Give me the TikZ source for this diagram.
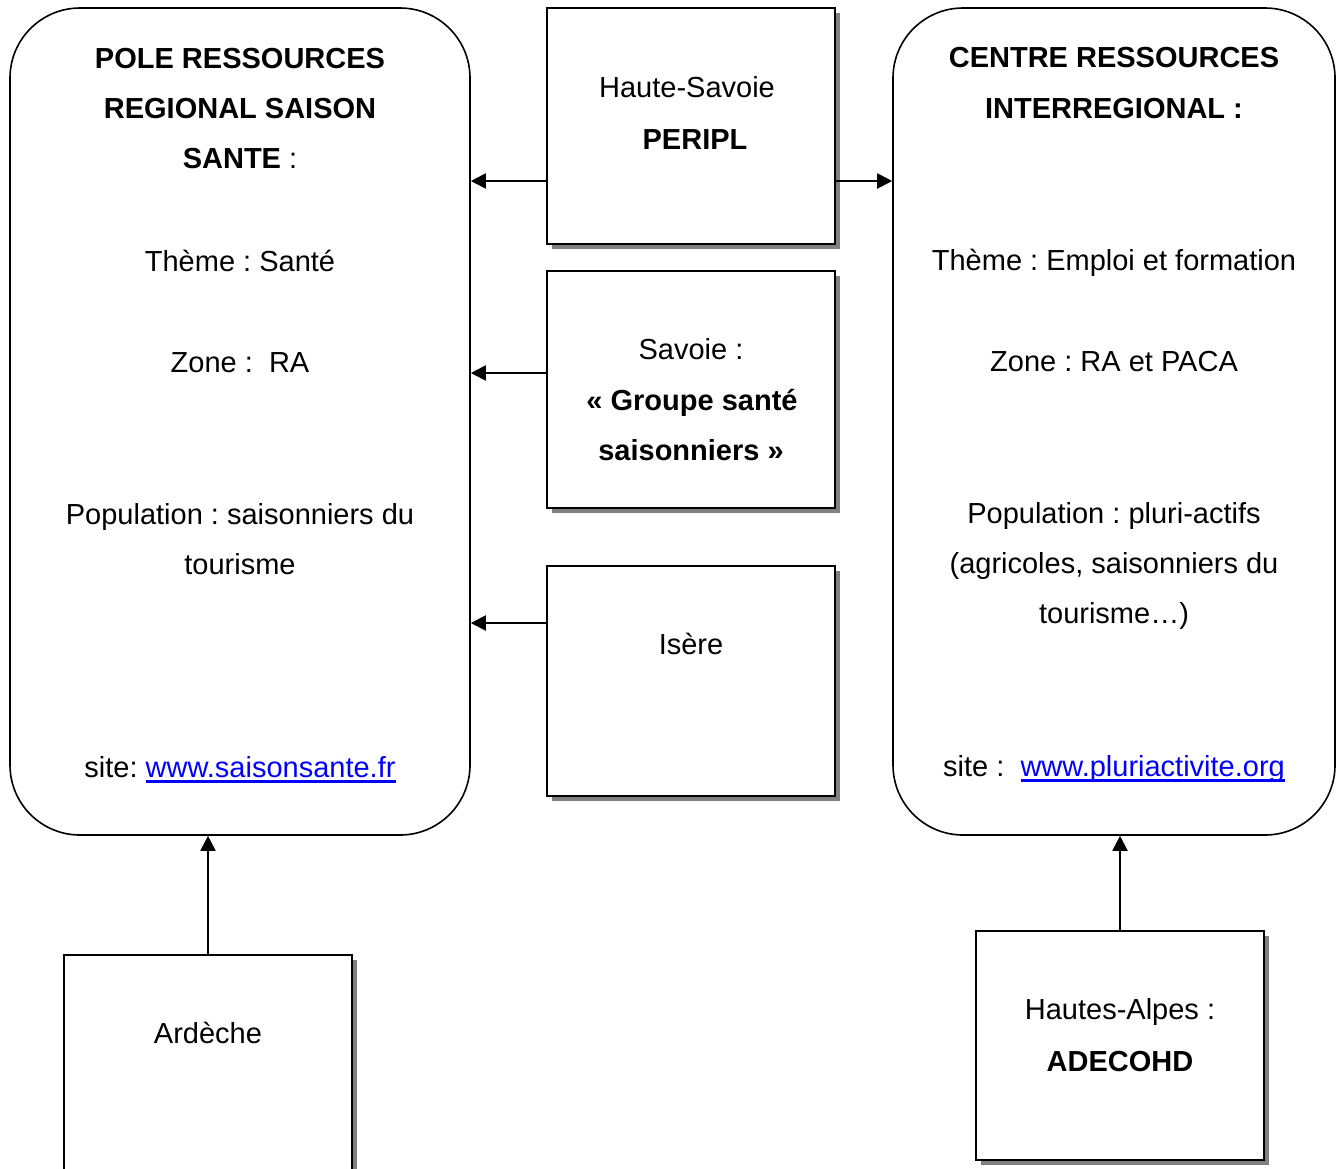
\documentclass[tikz,border=0pt]{standalone}
\usepackage{fontspec}
\setmainfont{Liberation Sans}
\usepackage{xcolor}
\usepackage{tikz}
\usetikzlibrary{positioning,arrows.meta,shadows}
\definecolor{liencol}{RGB}{0,0,255}
\newsavebox{\lienbox}
\newcommand{\lien}[1]{\sbox{\lienbox}{\color{liencol}#1}%
  {\color{liencol}\rlap{\rule[-5.5pt]{\wd\lienbox}{2.5pt}}\usebox{\lienbox}}}
\frenchspacing

\begin{document}
\begin{tikzpicture}[
  x=1pt, y=-1pt,
  pole/.style ={rectangle,rounded corners=70pt,draw,line width=1.6pt,
                minimum height=827pt,inner sep=0pt},
  cadre/.style={rectangle,draw,fill=white,line width=2pt,inner sep=0pt,
                minimum width=288pt,
                drop shadow={shadow xshift=5pt,shadow yshift=-5pt,
                             fill=black!50,opacity=1}},
  txt/.style  ={anchor=base,inner sep=0pt,font=\fontsize{29}{35}\selectfont},
  fleche/.style={->,line width=2pt},
  >={Triangle[length=15pt,width=15pt]}
]
\useasboundingbox (0,0) rectangle (1343,1168);

% grands poles
\node[pole,minimum width=460pt] (prs) at (240, 421.5) {};
\node[pole,minimum width=442pt] (cri) at (1114,421.5) {};

% departements
\node[cadre,minimum height=236pt] (hsav) at (691, 126)    {};
\node[cadre,minimum height=237pt] (sav)  at (691, 389.5)  {};
\node[cadre,minimum height=230pt] (ise)  at (691, 681)    {};
\node[cadre,minimum height=250pt] (ard)  at (208, 1080)   {};
\node[cadre,minimum height=229pt] (halp) at (1120,1045.5) {};

% textes
\node[txt] (t1) at (240, 68)  {\bfseries POLE RESSOURCES};
\node[txt] (t2) at (240, 118) {\bfseries REGIONAL SAISON};
\node[txt] (t3) at (240, 168) {\textbf{SANTE} :};
\node[txt] (t4) at (240, 271) {Thème : Santé};
\node[txt] (t5) at (240, 372) {Zone :\ \ RA};
\node[txt] (t6) at (240, 524) {Population : saisonniers du};
\node[txt] (t7) at (240, 574) {tourisme};
\node[txt] (t8) at (240, 777) {site: \lien{www.saisonsante.fr}};

\node[txt] (c1) at (1114, 67)  {\bfseries CENTRE RESSOURCES};
\node[txt] (c2) at (1114, 118) {\bfseries INTERREGIONAL :};
\node[txt] (c3) at (1114, 270) {Thème : Emploi et formation};
\node[txt] (c4) at (1114, 371) {Zone : RA et PACA};
\node[txt] (c5) at (1114, 523) {Population : pluri-actifs};
\node[txt] (c6) at (1114, 573) {(agricoles, saisonniers du};
\node[txt] (c7) at (1114, 623) {tourisme…)};
\node[txt] (c8) at (1114, 776) {site :\ \ \lien{www.pluriactivite.org}};

\node[txt] (h1) at (687, 97)  {Haute-Savoie};
\node[txt] (h2) at (695, 149) {\bfseries PERIPL};
\node[txt] (s1) at (691, 359) {Savoie :};
\node[txt] (s2) at (692, 410) {\bfseries « Groupe santé};
\node[txt] (s3) at (691, 460) {\bfseries saisonniers »};
\node[txt] (i1) at (691, 654) {Isère};
\node[txt] (a1) at (208, 1043) {Ardèche};
\node[txt] (l1) at (1120,1019) {Hautes-Alpes :};
\node[txt] (l2) at (1120,1071) {\bfseries ADECOHD};

% fleches
\coordinate (r1) at (547,181);
\coordinate (r2) at (547,373);
\coordinate (r3) at (547,623);
\coordinate (r4) at (835,181);
\draw[fleche] (r1) -- (prs.east |- r1);
\draw[fleche] (r2) -- (prs.east |- r2);
\draw[fleche] (r3) -- (prs.east |- r3);
\draw[fleche] (r4) -- (cri.west |- r4);
\draw[fleche] (ard.north)  -- (prs.south -| ard.north);
\draw[fleche] (halp.north) -- (cri.south -| halp.north);
\end{tikzpicture}
\end{document}
